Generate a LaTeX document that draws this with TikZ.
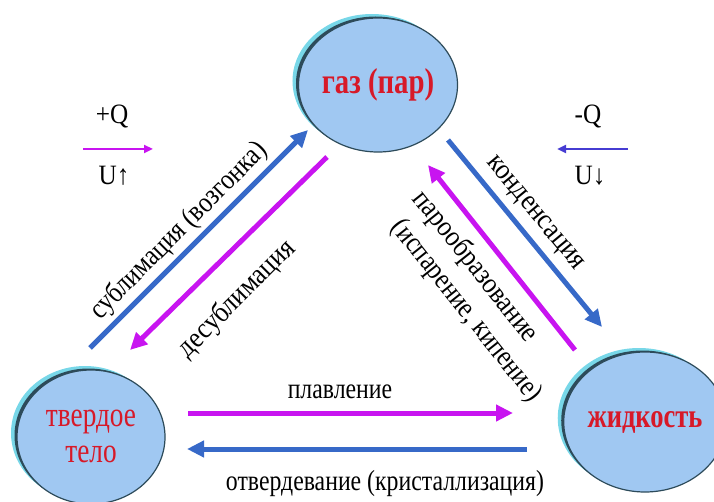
\documentclass[tikz,border=0pt]{standalone}
\usepackage{graphicx}
\usepackage{fontspec}
\setmainfont{Liberation Serif}
\usetikzlibrary{arrows.meta,shapes.geometric,shadows}
\definecolor{mag}{RGB}{200,20,240}
\definecolor{blu}{RGB}{55,105,200}
\definecolor{leg}{RGB}{70,60,210}
\definecolor{cfill}{RGB}{160,200,242}
\definecolor{cglow}{RGB}{120,215,232}
\definecolor{cedge}{RGB}{45,75,90}
\definecolor{txtred}{RGB}{215,25,40}
\newcommand\hsq[2]{\scalebox{#1}[1]{#2}}
\tikzset{
  blob/.style={ellipse, fill=cfill, draw=cedge, line width=1.2pt, text=txtred, align=center, inner sep=0pt,
    general shadow={shadow xshift=-6pt, shadow yshift=4pt, fill=cglow},
    general shadow={shadow xshift=-2.5pt, shadow yshift=1.5pt, fill=cedge}},
  bigarrow/.style={line width=5pt, -{Triangle[length=17pt,width=16pt]}},
  legarrow/.style={line width=2.4pt, -{Triangle[length=9pt,width=8pt]}},
  lbl/.style={font=\fontsize{29}{33}\selectfont, inner sep=0pt},
  legtxt/.style={font=\fontsize{28}{32}\selectfont, inner sep=0pt}
}
\begin{document}
\begin{tikzpicture}[x=1pt,y=-1pt]
\useasboundingbox (0,0) rectangle (714,502);
% circles
\node[blob, minimum width=141pt, minimum height=134pt, font=\bfseries\fontsize{36}{40}\selectfont] (gas) at (378,85) {\hsq{0.8}{газ (пар)}};
\node[blob, minimum width=148pt, minimum height=134pt, font=\fontsize{35}{37}\selectfont] (solid) at (91,437) {\hsq{0.78}{\begin{tabular}{@{}c@{}}твердое\\[-1pt]тело\end{tabular}}};
\node[blob, minimum width=138pt, minimum height=140pt, font=\bfseries\fontsize{34}{38}\selectfont] (liq) at (645,422) {\hsq{0.78}{жидкость}};
% arrow endpoints
\coordinate (s1) at (90,348);  \coordinate (s2) at (308,130);
\coordinate (d1) at (327,157); \coordinate (d2) at (130,350);
\coordinate (c1) at (448,140); \coordinate (c2) at (602,327);
\coordinate (v1) at (575,350); \coordinate (v2) at (428,165);
\coordinate (m1) at (188,413); \coordinate (m2) at (513,413);
\coordinate (o1) at (527,449); \coordinate (o2) at (187,449);
\draw[bigarrow, blu] (s1) -- (s2);
\draw[bigarrow, mag] (d1) -- (d2);
\draw[bigarrow, blu] (c1) -- (c2);
\draw[bigarrow, mag] (v1) -- (v2);
\draw[bigarrow, mag] (m1) -- (m2);
\draw[bigarrow, blu] (o1) -- (o2);
% labels
\node[lbl, rotate=45] (lsub) at (179,231) {\hsq{0.85}{сублимация (возгонка)}};
\node[lbl, rotate=45] (ldes) at (237,299) {\hsq{0.88}{десублимация}};
\node[lbl, rotate=-50.5] (lcon) at (534,214) {\hsq{0.9}{конденсация}};
\node[lbl, rotate=-51.5] (lvap1) at (475,267) {\hsq{0.88}{парообразование}};
\node[lbl, rotate=-51.5] (lvap2) at (466,311) {\hsq{0.85}{(испарение, кипение)}};
\node[lbl] (lmelt) at (340,392) {\hsq{0.82}{плавление}};
\node[lbl] (lsol) at (385,484) {\hsq{0.82}{отвердевание (кристаллизация)}};
% legend
\node[legtxt] (pq) at (112,117) {\hsq{0.9}{+Q}};
\coordinate (lp1) at (83,149); \coordinate (lp2) at (153,149);
\draw[legarrow, mag] (lp1) -- (lp2);
\node[legtxt] (uu) at (114,176) {\hsq{0.9}{U↑}};
\node[legtxt] (mq) at (588,117) {\hsq{0.9}{-Q}};
\coordinate (lm1) at (628,149); \coordinate (lm2) at (557,149);
\draw[legarrow, leg] (lm1) -- (lm2);
\node[legtxt] (ud) at (590,176) {\hsq{0.9}{U↓}};
\end{tikzpicture}
\end{document}
